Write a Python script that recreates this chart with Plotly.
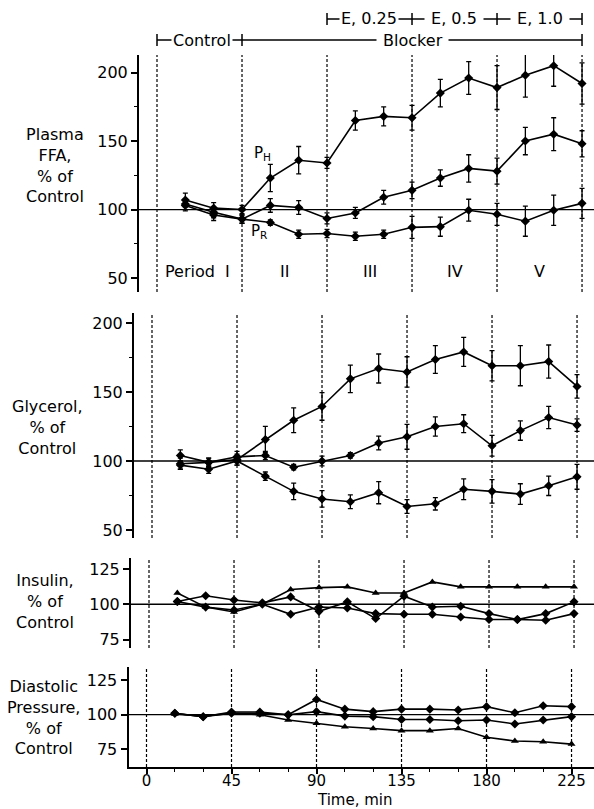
import plotly.graph_objects as go

# ---------------- data ----------------
times = [15, 30, 45, 60, 75, 90, 105, 120, 135, 150, 165, 180, 195, 210, 225]
period_bounds = [0, 45, 90, 135, 180, 225]
x_ticks = [0, 45, 90, 135, 180, 225]
x_tick_labels = ["0", "45", "90", "135", "180", "225"]

# Plasma FFA, % of control
ffa_ph = [107, 101, 100, 123, 136, 134, 165, 168, 167, 185, 196, 189, 198, 205, 192]
ffa_ph_err = [5, 4, 3, 10, 10, 4, 7, 7, 9, 10, 12, 16, 16, 15, 15]
ffa_mid = [104, 98, 93, 103, 101.5, 93.5, 97.5, 109, 114, 123, 130, 128, 150, 155, 148]
ffa_mid_err = [4, 4, 3, 5, 5, 4, 4, 5, 6, 6, 10, 9.5, 10, 12, 9.5]
ffa_pr = [103, 96, 93, 90.5, 82, 82.5, 80.5, 82, 87, 87.5, 99.5, 96.5, 91.5, 99.5, 104.5]
ffa_pr_err = [4, 4, 3, 2, 3, 3, 3, 3, 8, 7, 8, 8, 11, 11, 11]

# Glycerol, % of control
glyc_top = [98, 99, 101, 115.5, 129.5, 139.5, 159.5, 167, 164.5, 173.5, 179, 169, 169, 172, 154]
glyc_top_err = [4, 3, 4, 9.5, 9, 10, 10, 10.5, 11, 10, 10.5, 11, 14.5, 12, 8.5]
glyc_mid = [104, 99, 103, 104, 95.5, 100, 104, 113, 117.5, 125, 127, 111, 122, 131.5, 126]
glyc_mid_err = [4, 3, 4, 3, 2, 3.5, 2, 5, 9, 7, 6.5, 7.5, 7, 8, 4.5]
glyc_low = [97, 94, 100, 89, 78, 72.5, 70.5, 77, 67, 69, 79.5, 78, 76, 82, 88.5]
glyc_low_err = [3, 3, 3, 3, 6, 6, 5, 8, 5, 4.5, 7.5, 8.5, 7.5, 7, 9]

# Insulin, % of control
ins_tri = [108, 98, 94.6, 100, 110.4, 111.8, 112.3, 108, 108, 115.8, 112.3, 112.3, 112.3, 112.3, 112.3]
ins_zig = [102, 106, 103, 101, 105.2, 95, 101.7, 89.9, 105.7, 98.1, 98.6, 93.4, 89.2, 93.4, 101.7]
ins_low = [102, 98, 96, 100, 92.9, 98.1, 97.4, 93.4, 92.9, 92.9, 91, 89.2, 89.2, 88.7, 93.4]

# Diastolic pressure, % of control
dia_top = [101, 98.5, 102, 102, 100, 111, 104, 102.2, 104, 104, 103.4, 105.8, 101.4, 106.5, 105.8]
dia_mid = [101, 98.5, 101, 101, 100, 102.2, 99, 98.6, 96.6, 96.6, 95.7, 96.2, 93.3, 96.2, 98.6]
dia_tri = [100.5, 99, 101, 100, 96.2, 93.8, 91.3, 90.1, 88.5, 88.5, 90.1, 83.7, 81, 80.5, 78.8]

period_labels = ["Period  I", "II", "III", "IV", "V"]
period_label_x = [21.5, 67.5, 112.5, 158, 202.5]

# ---------------- layout geometry ----------------
W, H = 594, 809
ML, MR, MT, MB = 128, 0, 55, 42
PW, PHt = W - ML - MR, H - MT - MB
PX_PER_MIN = 1.889
t0_px = [157, 152, 149, 146.5]        # slight scan skew between panels
LEFT_GAP = 18
panel_px_y = [(55, 292), (313, 538), (558, 648), (667, 767)]
yranges = [[39.8, 212.8], [44.2, 207.2], [69.1, 132.7], [62.3, 134.4]]
ytickvals = [[50, 100, 150, 200], [50, 100, 150, 200], [75, 100, 125], [75, 100, 125]]
yminor = [[75, 125, 175], [75, 125, 175], [], []]

FONT = "DejaVu Sans"
BLACK = "black"

xdoms, xranges, ydoms = [], [], []
for i in range(4):
    left_px = t0_px[i] - LEFT_GAP
    xdoms.append([max(0.0, (left_px - ML) / PW), 1.0])
    xranges.append([-LEFT_GAP / PX_PER_MIN, (W - MR - t0_px[i]) / PX_PER_MIN])
    top, bot = panel_px_y[i]
    ydoms.append([(H - MB - bot) / PHt, (H - MB - top) / PHt])


def paper_x(t, i=0):
    d0, d1 = xdoms[i]
    r0, r1 = xranges[i]
    return d0 + (t - r0) / (r1 - r0) * (d1 - d0)


def paper_y(py):
    return (H - MB - py) / PHt


fig = go.Figure()

axn = ["", "2", "3", "4"]


def add_series(i, y, err=None, symbol="diamond", size=7):
    kw = {}
    if err is not None:
        kw["error_y"] = dict(type="data", array=err, visible=True, color=BLACK,
                             thickness=1.3, width=2.5)
    fig.add_trace(go.Scatter(
        x=times, y=y, mode="lines+markers",
        line=dict(color=BLACK, width=1.6),
        marker=dict(symbol=symbol, size=size, color=BLACK),
        xaxis="x" + axn[i], yaxis="y" + axn[i], showlegend=False,
        cliponaxis=False, **kw))


add_series(0, ffa_ph, ffa_ph_err)
add_series(0, ffa_mid, ffa_mid_err)
add_series(0, ffa_pr, ffa_pr_err)
add_series(1, glyc_top, glyc_top_err)
add_series(1, glyc_mid, glyc_mid_err)
add_series(1, glyc_low, glyc_low_err)
add_series(2, ins_tri, symbol="triangle-up", size=7)
add_series(2, ins_zig)
add_series(2, ins_low)
add_series(3, dia_top)
add_series(3, dia_mid)
add_series(3, dia_tri, symbol="triangle-up", size=7)

shapes = []
annotations = []
for i in range(4):
    xa = "x" + axn[i]
    ya = "y" + axn[i]
    # 100 % reference line
    shapes.append(dict(type="line", xref=xa + " domain", yref=ya, x0=0, x1=1, y0=100, y1=100,
                       line=dict(color=BLACK, width=1.3)))
    # period boundaries
    for b in period_bounds:
        shapes.append(dict(type="line", xref=xa, yref=ya + " domain", x0=b, x1=b, y0=0, y1=1,
                           line=dict(color=BLACK, width=1.2, dash="3px,2px")))

# ----- axes -----
tickfont = dict(family=FONT, size=16, color=BLACK)
for i in range(4):
    xa_key = "xaxis" + axn[i]
    ya_key = "yaxis" + axn[i]
    xd = dict(domain=xdoms[i], range=xranges[i], anchor="y" + axn[i],
              showgrid=False, zeroline=False)
    if i < 3:
        xd.update(visible=False)
    else:
        xd.update(showline=True, linewidth=2, linecolor=BLACK, ticks="outside",
                  ticklen=5, tickwidth=1.5, tickcolor=BLACK,
                  tickmode="array", tickvals=x_ticks, ticktext=x_tick_labels,
                  tickfont=dict(family=FONT, size=15, color=BLACK),
                  ticklabelstandoff=-6,
                  minor=dict(tick0=0, dtick=15, ticks="outside", ticklen=3,
                             tickwidth=1.2, tickcolor=BLACK))
    fig.layout[xa_key] = xd
    yd = dict(domain=ydoms[i], range=yranges[i], anchor="x" + axn[i],
              showline=True, linewidth=2, linecolor=BLACK, ticks="outside",
              ticklen=6, tickwidth=1.5, tickcolor=BLACK, showgrid=False,
              zeroline=False, tickmode="array", tickvals=ytickvals[i],
              tickfont=tickfont)
    if yminor[i]:
        yd["minor"] = dict(tickmode="array", tickvals=yminor[i], ticks="outside",
                           ticklen=3, tickwidth=1.2, tickcolor=BLACK)
    fig.layout[ya_key] = yd

# ----- y-axis titles -----
titles = [
    ("Plasma<br>FFA,<br>% of<br>Control", 55, 165),
    ("Glycerol,<br>% of<br>Control", 47, 427),
    ("Insulin,<br>% of<br>Control", 45, 601),
    ("Diastolic<br>Pressure,<br>% of<br>Control", 43, 717),
]
for txt, px, py in titles:
    annotations.append(dict(text=txt, xref="paper", yref="paper",
                            x=(px - ML) / PW, y=paper_y(py), xanchor="center",
                            yanchor="middle", align="center", showarrow=False,
                            font=dict(family=FONT, size=16, color=BLACK)))

annotations.append(dict(text="Time, min", xref="paper", yref="paper",
                        x=(355 - ML) / PW, y=paper_y(800), xanchor="center",
                        yanchor="middle", showarrow=False, borderpad=0,
                        font=dict(family=FONT, size=15, color=BLACK)))

# ----- period labels and curve labels -----
for lab, xv in zip(period_labels, period_label_x):
    annotations.append(dict(text=lab, xref="x", yref="y", x=xv, y=55,
                            showarrow=False, xanchor="center", yanchor="middle",
                            font=dict(family=FONT, size=16, color=BLACK)))
annotations.append(dict(text="P<sub>H</sub>", xref="x", yref="y", x=56, y=141,
                        showarrow=False, font=dict(family=FONT, size=15, color=BLACK)))
annotations.append(dict(text="P<sub>R</sub>", xref="x", yref="y", x=54, y=84,
                        showarrow=False, font=dict(family=FONT, size=15, color=BLACK)))

# ----- treatment bars above the plot -----
row1_y = paper_y(19)
row2_y = paper_y(40)
half = 6 / PHt
# row 2: Control / Blocker
shapes.append(dict(type="line", xref="paper", yref="paper", x0=paper_x(0), x1=paper_x(225),
                   y0=row2_y, y1=row2_y, line=dict(color=BLACK, width=1.5)))
for t in [0, 45, 225]:
    shapes.append(dict(type="line", xref="paper", yref="paper", x0=paper_x(t), x1=paper_x(t),
                       y0=row2_y - half, y1=row2_y + half, line=dict(color=BLACK, width=1.5)))
# row 1: E doses
shapes.append(dict(type="line", xref="paper", yref="paper", x0=paper_x(90), x1=paper_x(225),
                   y0=row1_y, y1=row1_y, line=dict(color=BLACK, width=1.5)))
for t in [90, 135, 180, 225]:
    shapes.append(dict(type="line", xref="paper", yref="paper", x0=paper_x(t), x1=paper_x(t),
                       y0=row1_y - half, y1=row1_y + half, line=dict(color=BLACK, width=1.5)))

bar_texts = [("Control", 24, row2_y), (" Blocker ", 135, row2_y),
             ("E, 0.25", 112, row1_y), (" E, 0.5 ", 157, row1_y), (" E, 1.0 ", 203, row1_y)]
for txt, t, yy in bar_texts:
    annotations.append(dict(text=txt, xref="paper", yref="paper", x=paper_x(t), y=yy,
                            xanchor="center", yanchor="middle", showarrow=False,
                            bgcolor="white", borderpad=1,
                            font=dict(family=FONT, size=16, color=BLACK)))

fig.update_layout(
    width=W, height=H,
    margin=dict(l=ML, r=MR, t=MT, b=MB),
    paper_bgcolor="white", plot_bgcolor="white",
    shapes=shapes, annotations=annotations,
    font=dict(family=FONT, color=BLACK),
    showlegend=False,
)

fig.write_html("out.html",
               config={"displayModeBar": False},
               post_script="document.body.style.margin='0';document.body.style.overflow='hidden';")
